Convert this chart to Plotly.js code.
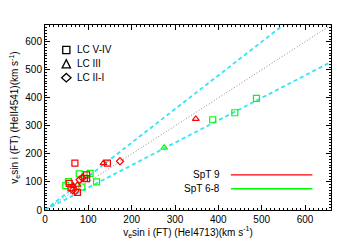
<!DOCTYPE html>
<html><head><meta charset="utf-8">
<script src="https://cdn.plot.ly/plotly-3.0.1.min.js"></script>
<style>body{margin:0;padding:0;background:#fff}#chart{width:350px;height:250px}</style>
</head><body><div id="chart"></div>
<script>
// Red = SpT 9, Green = SpT 6-8 ; symbol = luminosity class
const red_LCV_x = [69, 144, 96, 96, 56, 60, 75, 91];
const red_LCV_y = [167, 167, 125, 112, 95, 80, 63, 113];
const red_LCIII_x = [135, 348, 65, 75];
const red_LCIII_y = [167, 325, 87, 90];
const red_LCII_x = [173, 64, 70, 80, 86];
const red_LCII_y = [174, 70, 68, 108, 115];
const green_LCV_x = [79, 104, 119, 54, 48, 85, 387, 438, 488];
const green_LCV_y = [129, 131, 100, 101, 87, 82, 322, 347, 398];
const green_LCIII_x = [275, 65];
const green_LCIII_y = [222, 86];
const refSlopes = [1, 1.2, 0.8];
const refX = [0, 700];
const lcLabels = ['LC V-IV', 'LC III', 'LC II-I'];
const sptLabels = ['SpT 9', 'SpT 6-8'];
const RED = '#ff0000', GREEN = '#00ff00';

const traces = [];
refSlopes.forEach((s, i) => {
  traces.push({x: refX, y: refX.map(v => v * s), mode: 'lines', hoverinfo: 'skip',
    line: i === 0 ? {color: '#888888', width: 1, dash: '1px,2px'} : {color: '#33e5f5', width: 1.8, dash: '4px,3px'}});
});
function pts(x, y, color, symbol, size) {
  return {x, y, mode: 'markers', cliponaxis: false,
    marker: {symbol, size: size, color: color, line: {color, width: 1.2}}};
}
traces.push(pts(green_LCV_x, green_LCV_y, GREEN, 'square-open', 6));
traces.push(pts(green_LCIII_x, green_LCIII_y, GREEN, 'triangle-up-open', 6));
traces.push(pts(red_LCV_x, red_LCV_y, RED, 'square-open', 6));
traces.push(pts(red_LCIII_x, red_LCIII_y, RED, 'triangle-up-open', 6));
traces.push(pts(red_LCII_x, red_LCII_y, RED, 'diamond-open', 5.5));

const font = {family: 'Liberation Sans, Arial, sans-serif', size: 10, color: '#000'};
const axis = {
  range: [0, 660], showgrid: false, zeroline: false, showline: true, linecolor: '#000', linewidth: 1,
  mirror: 'ticks', ticks: 'inside', ticklen: 5, tickcolor: '#000', dtick: 100, tick0: 0,
  minor: {ticks: 'inside', ticklen: 2, dtick: 10, tickcolor: '#000'},
  tickfont: font
};
const annotations = [], shapes = [];
// symbol legend (top-left)
const symY = [0.865, 0.79, 0.715];
lcLabels.forEach((t, i) => {
  annotations.push({xref: 'paper', yref: 'paper', x: 0.105, y: symY[i], text: t, showarrow: false,
    xanchor: 'left', yanchor: 'middle', font: font});
});
shapes.push({type: 'rect', xref: 'paper', yref: 'paper', x0: 0.062, x1: 0.087, y0: 0.845, y1: 0.885, line: {color: '#000', width: 1.3}});
shapes.push({type: 'path', xref: 'paper', yref: 'paper', path: 'M 0.060 0.768 L 0.089 0.768 L 0.0745 0.812 Z', line: {color: '#000', width: 1.3}});
shapes.push({type: 'path', xref: 'paper', yref: 'paper', path: 'M 0.0745 0.738 L 0.091 0.715 L 0.0745 0.692 L 0.058 0.715 Z', line: {color: '#000', width: 1.3}});
// colour legend (bottom-right)
const colY = [0.19, 0.115];
const colC = [RED, GREEN];
sptLabels.forEach((t, i) => {
  annotations.push({xref: 'paper', yref: 'paper', x: 0.62, y: colY[i], text: t, showarrow: false,
    xanchor: 'right', yanchor: 'middle', font: font});
  shapes.push({type: 'line', xref: 'paper', yref: 'paper', x0: 0.65, x1: 0.935, y0: colY[i], y1: colY[i], line: {color: colC[i], width: 1.3}});
});

const layout = {
  width: 350, height: 250, margin: {l: 45, r: 19, t: 25, b: 40},
  paper_bgcolor: '#fff', plot_bgcolor: '#fff', showlegend: false, font: font,
  xaxis: Object.assign({}, axis, {title: {text: 'v<sub>e</sub>sin i (FT) (HeI4713)(km s<sup>-1</sup>)', font: font, standoff: 4}}),
  yaxis: Object.assign({}, axis, {title: {text: 'v<sub>e</sub>sin i (FT) (HeII4541)(km s<sup>-1</sup>)', font: font, standoff: 4}}),
  annotations, shapes
};
Plotly.newPlot('chart', traces, layout, {staticPlot: true});
</script></body></html>
